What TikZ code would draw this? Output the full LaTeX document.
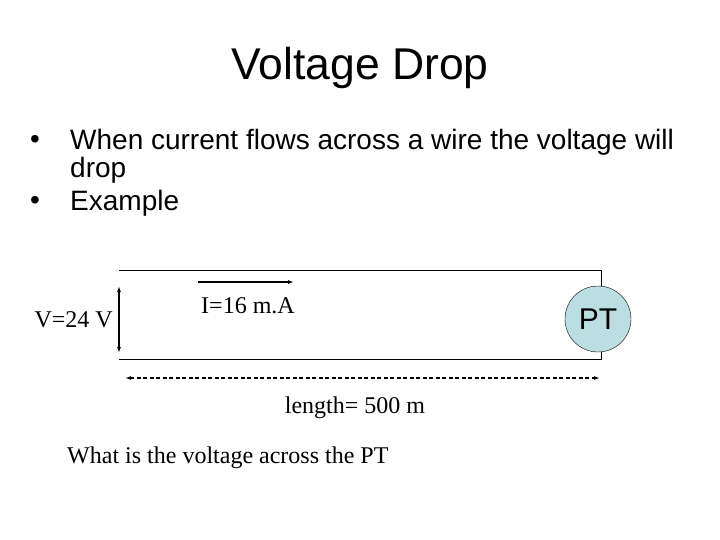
\documentclass[tikz,border=0pt]{standalone}
\usepackage{fontspec}
\setmainfont{Liberation Serif}
\newfontfamily\arial{Liberation Sans}
\usetikzlibrary{arrows.meta}
\begin{document}
\begin{tikzpicture}[x=1pt,y=-1pt,
  wire/.style={line width=0.8pt},
  arr/.style={line width=1.4pt,-{Latex[length=6pt,width=4pt]}},
  lbl/.style={font=\fontsize{24}{26}\selectfont,inner sep=0pt},
  bul/.style={font=\arial\fontsize{28}{30}\selectfont,inner sep=0pt,anchor=west}]
\useasboundingbox (0,0) rectangle (720,540);
\node[font=\arial\fontsize{44.5}{48}\selectfont] (title) at (360,68) {Voltage Drop};
\node[bul] (b1) at (30,142) {•};
\node[bul] (t1) at (70,142) {When current flows across a wire the voltage will};
\node[bul] (t1b) at (70,170) {drop};
\node[bul] (b2) at (30,203) {•};
\node[bul] (t2) at (70,203) {Example};
\coordinate (tl) at (119,270); \coordinate (tr) at (601,270);
\coordinate (bl) at (119,359); \coordinate (br) at (601,359);
\node[circle,draw,fill={rgb,255:red,187;green,222;blue,227},minimum size=66pt,inner sep=0pt,font=\arial\fontsize{30}{32}\selectfont] (pt) at (598,319) {PT};
\draw[wire] (tl) -- (tr) -- (pt.north -| tr);
\draw[wire] (bl) -- (br) -- (pt.south -| br);
\coordinate (va) at (119,286); \coordinate (vb) at (119,353);
\draw[line width=1.4pt,{Latex[length=6pt,width=4pt]}-{Latex[length=6pt,width=4pt]}] (va) -- (vb);
\node[lbl,anchor=east] (v) at (113,320) {V=24 V};
\coordinate (ia) at (198,282); \coordinate (ib) at (294,282);
\draw[arr] (ia) -- (ib);
\node[lbl] (i) at (248,306) {I=16 m.A};
\coordinate (la) at (125,378); \coordinate (lb) at (600,378);
\draw[line width=1.2pt,dash pattern=on 4pt off 2.5pt,{Latex[length=6pt,width=4pt]}-{Latex[length=6pt,width=4pt]}] (la) -- (lb);
\node[lbl] (len) at (355,408) {length= 500 m};
\node[lbl,anchor=west] (q) at (67,458) {What is the voltage across the PT};
\end{tikzpicture}
\end{document}
